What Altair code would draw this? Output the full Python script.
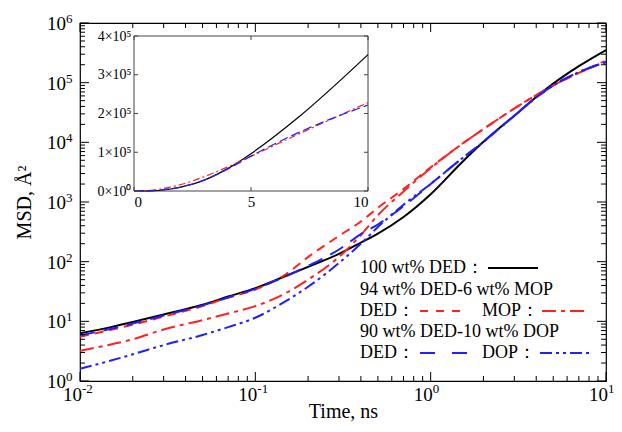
import altair as alt
import pandas as pd

# ---------------- data ----------------
time_ns = [0.01, 0.015, 0.02, 0.03, 0.05, 0.07, 0.1, 0.15, 0.2, 0.3, 0.4, 0.5,
           0.7, 1.0, 1.5, 2.0, 3.0, 4.0, 5.0, 7.0, 10.0]
msd_ded100 = [6.3, 8.0, 9.8, 13, 19, 26, 36, 58, 82, 135, 209, 295,
              560, 1350, 4550, 10200, 28000, 57700, 96400, 189000, 352000]
msd_mop_ded = [5.5, 7.2, 8.8, 12, 18, 25, 34, 62, 120, 270, 470, 800,
               1650, 3800, 9270, 16700, 36900, 62000, 89500, 146000, 228000]
msd_mop_mop = [3.2, 4.1, 5.0, 7.3, 10.5, 13.5, 18, 30, 50, 120, 280, 600,
               1500, 3700, 9270, 16700, 36900, 62000, 89500, 146000, 234000]
msd_dop_ded = [5.8, 7.5, 9.2, 12.5, 18.5, 25, 35, 57, 85, 160, 290, 420,
               850, 2000, 5300, 10200, 28000, 56500, 90000, 150000, 222000]
msd_dop_dop = [1.6, 2.2, 2.8, 4.0, 5.9, 8.0, 11.5, 22, 38, 95, 200, 380,
               900, 2000, 5300, 10200, 28000, 56500, 90000, 150000, 220000]

x_major = [0.01, 0.1, 1, 10]
x_exp = ["-2", "-1", "0", "1"]
x_minor = [m * 10.0 ** e for e in (-2, -1, 0) for m in range(2, 10)]
y_major = [1, 10, 100, 1000, 1e4, 1e5, 1e6]
y_exp = ["0", "1", "2", "3", "4", "5", "6"]
y_minor = [m * 10.0 ** e for e in range(0, 6) for m in range(2, 10)]

inset_x_ticks = [0, 5, 10]
inset_y_ticks = [0, 100000, 200000, 300000, 400000]
inset_x_domain = [0, 10]
inset_y_domain = [0, 400000]

# ---------------- layout / style ----------------
W, H = 526, 358
FONT = "Liberation Serif"
RED = "#ff2020"
BLUE = "#2020ff"
IX0, IX1 = 54, 288      # inset pixel range (x)
IYB, IYT = 168, 13      # inset pixel range (y)


def frame(vals):
    return pd.DataFrame({"t": time_ns, "msd": vals})


xs = alt.Scale(type="log", domain=[0.01, 10], nice=False)
ys = alt.Scale(type="log", domain=[1, 1e6], nice=False)

x_axis = alt.Axis(
    values=x_major, grid=False, ticks=False, domain=False, labels=False,
    title="Time, ns", titleFontSize=20, titleFont=FONT, titleFontWeight="normal",
    titleColor="black", titlePadding=20,
)
y_axis = alt.Axis(
    values=y_major, grid=False, ticks=False, domain=False, labels=False,
    title="MSD, \u00c5\u00b2", titleFontSize=20, titleFont=FONT, titleFontWeight="normal",
    titleColor="black", titlePadding=46,
)


def X(field):
    return alt.X(field, type="quantitative", scale=xs, axis=x_axis)


def Y(field):
    return alt.Y(field, type="quantitative", scale=ys, axis=y_axis)


def main_line(vals, color, dash, width=2.0):
    kw = dict(color=color, strokeWidth=width, interpolate="monotone", clip=True)
    if dash:
        kw["strokeDash"] = dash
    return alt.Chart(frame(vals)).mark_line(**kw).encode(x=X("t"), y=Y("msd"))


lines = [
    main_line(msd_ded100, "black", None),
    main_line(msd_mop_ded, RED, [9, 6]),
    main_line(msd_mop_mop, RED, [14, 5, 4, 5]),
    main_line(msd_dop_ded, BLUE, [15, 9]),
    main_line(msd_dop_dop, BLUE, [12, 4, 3, 4, 3, 4]),
]


def xticks(vals, length):
    df = pd.DataFrame({"v": vals})
    bottom = alt.Chart(df).mark_rule(color="black", strokeWidth=1).encode(
        x=X("v"), y=alt.value(H), y2=alt.value(H - length))
    top = alt.Chart(df).mark_rule(color="black", strokeWidth=1).encode(
        x=X("v"), y=alt.value(0), y2=alt.value(length))
    return [bottom, top]


def yticks(vals, length):
    df = pd.DataFrame({"v": vals})
    left = alt.Chart(df).mark_rule(color="black", strokeWidth=1).encode(
        y=Y("v"), x=alt.value(0), x2=alt.value(length))
    right = alt.Chart(df).mark_rule(color="black", strokeWidth=1).encode(
        y=Y("v"), x=alt.value(W), x2=alt.value(W - length))
    return [left, right]


ticks = xticks(x_major, 9) + xticks(x_minor, 5) + yticks(y_major, 9) + yticks(y_minor, 5)

# tick labels as "10" + raised exponent
xl = pd.DataFrame({"v": x_major, "e": x_exp})
yl = pd.DataFrame({"v": y_major, "e": y_exp})
tick_labels = [
    alt.Chart(xl).mark_text(text="10", font=FONT, fontSize=19, color="black",
                            align="right", baseline="middle", dx=2).encode(
        x=X("v"), y=alt.value(H + 14)),
    alt.Chart(xl).mark_text(font=FONT, fontSize=13, color="black",
                            align="left", baseline="middle", dx=2).encode(
        x=X("v"), y=alt.value(H + 8), text="e:N"),
    alt.Chart(yl).mark_text(text="10", font=FONT, fontSize=19, color="black",
                            align="right", baseline="middle").encode(
        y=Y("v"), x=alt.value(-14), yOffset=alt.value(1)),
    alt.Chart(yl).mark_text(font=FONT, fontSize=13, color="black",
                            align="left", baseline="middle").encode(
        y=Y("v"), x=alt.value(-14), yOffset=alt.value(-4), text="e:N"),
]

# ---------------- legend (annotation) ----------------
one = pd.DataFrame({"k": [0]})


def ltext(txt, x, y):
    return alt.Chart(one).mark_text(
        text=txt, font=FONT, fontSize=18, color="black",
        align="left", baseline="middle").encode(x=alt.value(x), y=alt.value(y))


def lsample(x0, x1, y, color, dash):
    kw = dict(color=color, strokeWidth=2)
    if dash:
        kw["strokeDash"] = dash
    return alt.Chart(one).mark_rule(**kw).encode(
        x=alt.value(x0), x2=alt.value(x1), y=alt.value(y))


legend = [
    ltext("100 wt% DED\uff1a", 280, 245),
    lsample(408, 458, 245, "black", None),
    ltext("94 wt% DED-6 wt% MOP", 280, 267),
    ltext("DED\uff1a", 280, 288),
    lsample(340, 388, 288, RED, [8, 8]),
    ltext("MOP\uff1a", 402, 288),
    lsample(462, 508, 288, RED, [14, 5, 4, 5]),
    ltext("90 wt% DED-10 wt% DOP", 280, 309),
    ltext("DED\uff1a", 280, 330),
    lsample(340, 388, 330, BLUE, [15, 17]),
    ltext("DOP\uff1a", 402, 330),
    lsample(460, 510, 330, BLUE, [12, 4, 3, 4, 3, 4]),
]

main = alt.layer(*lines, *ticks, *tick_labels, *legend)

# ---------------- inset (linear scales) ----------------
ixs = alt.Scale(domain=inset_x_domain, range=[IX0, IX1], nice=False, zero=False)
iys = alt.Scale(domain=inset_y_domain, range=[IYB, IYT], nice=False)

ix_axis = alt.Axis(
    orient="bottom", offset=-(H - IYB), values=inset_x_ticks, grid=False,
    ticks=False, domain=False, labelFontSize=15, labelFont=FONT,
    labelColor="black", labelPadding=3, title=None,
)
iy_axis = alt.Axis(
    orient="left", offset=-IX0, values=inset_y_ticks, grid=False,
    ticks=False, domain=False, labelFontSize=14, labelFont=FONT,
    labelColor="black", labelPadding=3, title=None,
    labelExpr="datum.value == 0 ? '0\u00d710\u2070' : format(datum.value/100000, 'd') + '\u00d710\u2075'",
)


def IX(field):
    return alt.X(field, type="quantitative", scale=ixs, axis=ix_axis)


def IY(field):
    return alt.Y(field, type="quantitative", scale=iys, axis=iy_axis)


box_df = pd.DataFrame({"x0": [inset_x_domain[0]], "x1": [inset_x_domain[1]],
                       "y0": [inset_y_domain[0]], "y1": [inset_y_domain[1]]})
box = alt.Chart(box_df).mark_rect(fill="white", stroke="#444444", strokeWidth=1).encode(
    x=IX("x0"), x2="x1", y=IY("y0"), y2="y1")


def inset_line(vals, color, dash):
    kw = dict(color=color, strokeWidth=1.2, interpolate="monotone")
    if dash:
        kw["strokeDash"] = dash
    return alt.Chart(frame(vals)).mark_line(**kw).encode(x=IX("t"), y=IY("msd"))


ixdf = pd.DataFrame({"v": inset_x_ticks})
iydf = pd.DataFrame({"v": inset_y_ticks})
inset_ticks = [
    alt.Chart(ixdf).mark_rule(color="#444444").encode(x=IX("v"), y=alt.value(IYB), y2=alt.value(IYB - 4)),
    alt.Chart(ixdf).mark_rule(color="#444444").encode(x=IX("v"), y=alt.value(IYT), y2=alt.value(IYT + 4)),
    alt.Chart(iydf).mark_rule(color="#444444").encode(y=IY("v"), x=alt.value(IX0), x2=alt.value(IX0 + 4)),
    alt.Chart(iydf).mark_rule(color="#444444").encode(y=IY("v"), x=alt.value(IX1), x2=alt.value(IX1 - 4)),
]

inset = alt.layer(
    box,
    inset_line(msd_ded100, "black", None),
    inset_line(msd_mop_ded, RED, [7, 3, 2, 3]),
    inset_line(msd_dop_ded, BLUE, [9, 4]),
    *inset_ticks,
)

chart = alt.layer(main, inset).resolve_scale(
    x="independent", y="independent"
).resolve_axis(x="independent", y="independent").properties(
    width=W, height=H,
    autosize=alt.AutoSizeParams(type="none"),
    padding={"left": 72, "top": 15, "right": 8, "bottom": 43},
    background="white",
).configure_view(stroke="black", strokeWidth=1.2)

chart.save("out.html", embed_options={"renderer": "svg", "actions": False})
